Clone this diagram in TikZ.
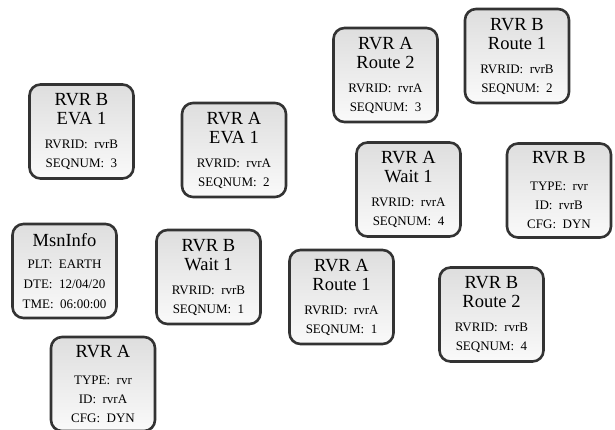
\documentclass[tikz,border=0pt]{standalone}
\usepackage{fontspec}
\setmainfont{Liberation Serif}
\usepackage{tikz}
\usetikzlibrary{positioning}

\newcommand{\ttl}[1]{{\fontsize{18.5}{19}\selectfont #1}}

\begin{document}
\begin{tikzpicture}
    [x=1pt,y=-1pt,
     doc/.style={rectangle,rounded corners=11pt,draw=black!80,line width=2.6pt,
       top color=black!13,bottom color=black!2,minimum width=104pt,minimum height=94pt,
       align=center,inner sep=2pt,font=\fontsize{13}{19}\selectfont}]

    \useasboundingbox (0,0) rectangle (615,430);

    \node[doc] (rvrbeva) at (81.5,131.5) {\ttl{RVR B}\\\ttl{EVA 1}\\[5pt]RVRID:~~rvrB\\SEQNUM:~~3};

    \node[doc] (rvraeva) at (234,150) {\ttl{RVR A}\\\ttl{EVA 1}\\[5pt]RVRID:~~rvrA\\SEQNUM:~~2};

    \node[doc] (rvraroute2) at (385.5,75) {\ttl{RVR A}\\\ttl{Route 2}\\[5pt]RVRID:~~rvrA\\SEQNUM:~~3};

    \node[doc] (rvbroute1) at (517,56) {\ttl{RVR B}\\\ttl{Route 1}\\[5pt]RVRID:~~rvrB\\SEQNUM:~~2};

    \node[doc] (rvrawait) at (408.5,189.5) {\ttl{RVR A}\\\ttl{Wait 1}\\[5pt]RVRID:~~rvrA\\SEQNUM:~~4};

    \node[doc] (rvrbinfo) at (559,190.5) {\ttl{RVR B}\\[8pt]TYPE:~~rvr\\ID:~~rvrB\\CFG:~~DYN};

    \node[doc] (msninfo) at (64.5,271) {\ttl{MsnInfo}\\[3pt]PLT:~~EARTH\\[1pt]DTE:~~12/04/20\\[1pt]TME:~~06:00:00};

    \node[doc] (rvrbwait) at (208.5,277) {\ttl{RVR B}\\\ttl{Wait 1}\\[5pt]RVRID:~~rvrB\\SEQNUM:~~1};

    \node[doc] (rvraroute1) at (341.5,297) {\ttl{RVR A}\\\ttl{Route 1}\\[5pt]RVRID:~~rvrA\\SEQNUM:~~1};

    \node[doc] (rvrbroute2) at (491.5,314.5) {\ttl{RVR B}\\\ttl{Route 2}\\[5pt]RVRID:~~rvrB\\SEQNUM:~~4};

    \node[doc] (rvrainfo) at (103,384) {\ttl{RVR A}\\[8pt]TYPE:~~rvr\\ID:~~rvrA\\CFG:~~DYN};
  \end{tikzpicture}
\end{document}
